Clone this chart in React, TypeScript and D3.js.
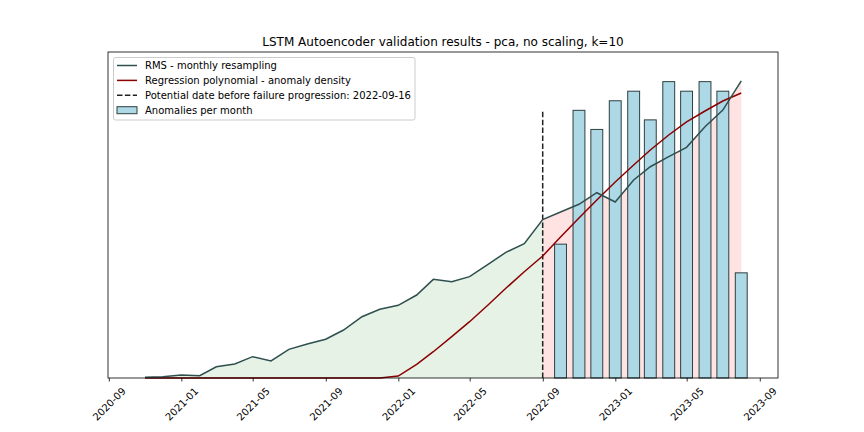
import * as d3 from "d3";

// month-end resampling points
const months = [
  "2020-10-31", "2020-11-30", "2020-12-31", "2021-01-31", "2021-02-28", "2021-03-31",
  "2021-04-30", "2021-05-31", "2021-06-30", "2021-07-31", "2021-08-31", "2021-09-30",
  "2021-10-31", "2021-11-30", "2021-12-31", "2022-01-31", "2022-02-28", "2022-03-31",
  "2022-04-30", "2022-05-31", "2022-06-30", "2022-07-31", "2022-08-31", "2022-09-30",
  "2022-10-31", "2022-11-30", "2022-12-31", "2023-01-31", "2023-02-28", "2023-03-31",
  "2023-04-30", "2023-05-31", "2023-06-30", "2023-07-31",
];

const rmsValues = [
  0.07, 0.14, 0.31, 0.24, 1.18, 1.46, 2.23, 1.78, 3.0, 3.56, 4.05, 5.02,
  6.41, 7.19, 7.6, 8.68, 10.32, 10.07, 10.6, 11.89, 13.14, 14.05, 16.58, 17.36,
  18.17, 19.38, 18.41, 20.71, 22.1, 23.15, 24.13, 26.29, 28.03, 31.07,
];

const regressionValues = [
  0, 0, 0, 0, 0, 0, 0, 0, 0, 0, 0, 0,
  0, 0, 0.2, 1.43, 2.75, 4.32, 5.89, 7.64, 9.38, 11.12, 12.76, 14.75,
  16.74, 18.62, 20.5, 22.28, 23.85, 25.42, 26.78, 27.93, 28.97, 29.81,
];

const barMonths = [
  "2022-09-30", "2022-10-31", "2022-11-30", "2022-12-31", "2023-01-31", "2023-02-28",
  "2023-03-31", "2023-04-30", "2023-05-31", "2023-06-30", "2023-07-31",
];
const anomalyCounts = [14, 28, 26, 29, 30, 27, 31, 30, 31, 30, 11];

const xTickLabels = [
  "2020-09", "2021-01", "2021-05", "2021-09", "2022-01",
  "2022-05", "2022-09", "2023-01", "2023-05", "2023-09",
];

const markerDate = "2022-08-31";
const markerLabel = "2022-09-16";
const title = "LSTM Autoencoder validation results - pca, no scaling, k=10";

const W = 864;
const H = 432;
const margin = { top: 52, right: 86, bottom: 54, left: 108 };
const FONT = "DejaVu Sans, sans-serif";
const DAY = 86400000;

export default function App() {
  const x = d3
    .scaleUtc()
    .domain([new Date(Date.UTC(2020, 7, 29, 19)), new Date(Date.UTC(2023, 8, 30, 19))])
    .range([margin.left, W - margin.right]);
  const maxCount = d3.max(anomalyCounts) ?? 0;
  const y = d3
    .scaleLinear()
    .domain([0, maxCount * 1.1])
    .range([H - margin.bottom, margin.top]);

  const rows = months.map((m, i) => ({
    date: new Date(m),
    rms: rmsValues[i],
    reg: regressionValues[i],
  }));
  const marker = new Date(markerDate);
  const before = rows.filter((d) => d.date <= marker);
  const after = rows.filter((d) => d.date >= marker);

  const area = d3
    .area<(typeof rows)[number]>()
    .x((d) => x(d.date))
    .y0(y(0))
    .y1((d) => y(d.rms));
  const rmsLine = d3
    .line<(typeof rows)[number]>()
    .x((d) => x(d.date))
    .y((d) => y(d.rms));
  const regLine = d3
    .line<(typeof rows)[number]>()
    .x((d) => x(d.date))
    .y((d) => y(d.reg));

  const [x0, x1] = x.range();
  const [yb, yt] = y.range();

  const legendItems = [
    "RMS - monthly resampling",
    "Regression polynomial - anomaly density",
    `Potential date before failure progression: ${markerLabel}`,
    "Anomalies per month",
  ];

  return (
    <svg
      width={W}
      height={H}
      style={{ position: "absolute", left: 0, top: 0, background: "#fff" }}
      fontFamily={FONT}
    >
      <rect width={W} height={H} fill="#fff" />
      <text x={(x0 + x1) / 2} y={46} textAnchor="middle" fontSize={12}>
        {title}
      </text>

      {/* fills */}
      <path d={area(before) ?? ""} fill="green" fillOpacity={0.1} />
      <path d={area(after) ?? ""} fill="red" fillOpacity={0.11} />

      {/* bars */}
      {barMonths.map((m, i) => {
        const c = new Date(m).getTime();
        const bx0 = x(new Date(c - 10 * DAY));
        const bx1 = x(new Date(c + 10 * DAY));
        return (
          <rect
            key={m}
            x={bx0}
            y={y(anomalyCounts[i])}
            width={bx1 - bx0}
            height={yb - y(anomalyCounts[i])}
            fill="#add8e6"
            stroke="#2f3f3f"
            strokeWidth={1}
          />
        );
      })}

      {/* dashed marker */}
      <line
        x1={x(marker)}
        x2={x(marker)}
        y1={yb}
        y2={y(maxCount * 0.9)}
        stroke="#222"
        strokeWidth={1.5}
        strokeDasharray="5.5,2.4"
      />

      <path d={regLine(rows) ?? ""} fill="none" stroke="#8b0000" strokeWidth={1.5} />
      <path d={rmsLine(rows) ?? ""} fill="none" stroke="#2f4f4f" strokeWidth={1.5} />

      {/* frame */}
      <rect x={x0} y={yt} width={x1 - x0} height={yb - yt} fill="none" stroke="#000" strokeWidth={0.8} />

      {/* x axis */}
      {xTickLabels.map((t) => {
        const tx = x(new Date(`${t}-01`));
        return (
          <g key={t}>
            <line x1={tx} x2={tx} y1={yb} y2={yb + 3.5} stroke="#000" strokeWidth={0.8} />
            <text
              transform={`translate(${tx},${yb + 26}) rotate(-45)`}
              textAnchor="middle"
              dominantBaseline="central"
              fontSize={10}
            >
              {t}
            </text>
          </g>
        );
      })}

      {/* legend */}
      <g>
        <rect
          x={113.5}
          y={57.5}
          width={301.5}
          height={62.5}
          rx={2}
          fill="#fff"
          fillOpacity={0.8}
          stroke="#ccc"
          strokeWidth={1}
        />
        {legendItems.map((label, i) => {
          const cy = 65.5 + i * 14.9;
          let handle;
          if (i === 0)
            handle = <line x1={117} x2={137} y1={cy} y2={cy} stroke="#2f4f4f" strokeWidth={1.5} />;
          else if (i === 1)
            handle = <line x1={117} x2={137} y1={cy} y2={cy} stroke="#8b0000" strokeWidth={1.5} />;
          else if (i === 2)
            handle = (
              <line x1={117} x2={137} y1={cy} y2={cy} stroke="#222" strokeWidth={1.5} strokeDasharray="5.5,2.4" />
            );
          else
            handle = (
              <rect x={117} y={cy - 3.5} width={20} height={7} fill="#add8e6" stroke="#2f3f3f" strokeWidth={1} />
            );
          return (
            <g key={label}>
              {handle}
              <text x={145} y={cy} dominantBaseline="central" fontSize={10}>
                {label}
              </text>
            </g>
          );
        })}
      </g>
    </svg>
  );
}
